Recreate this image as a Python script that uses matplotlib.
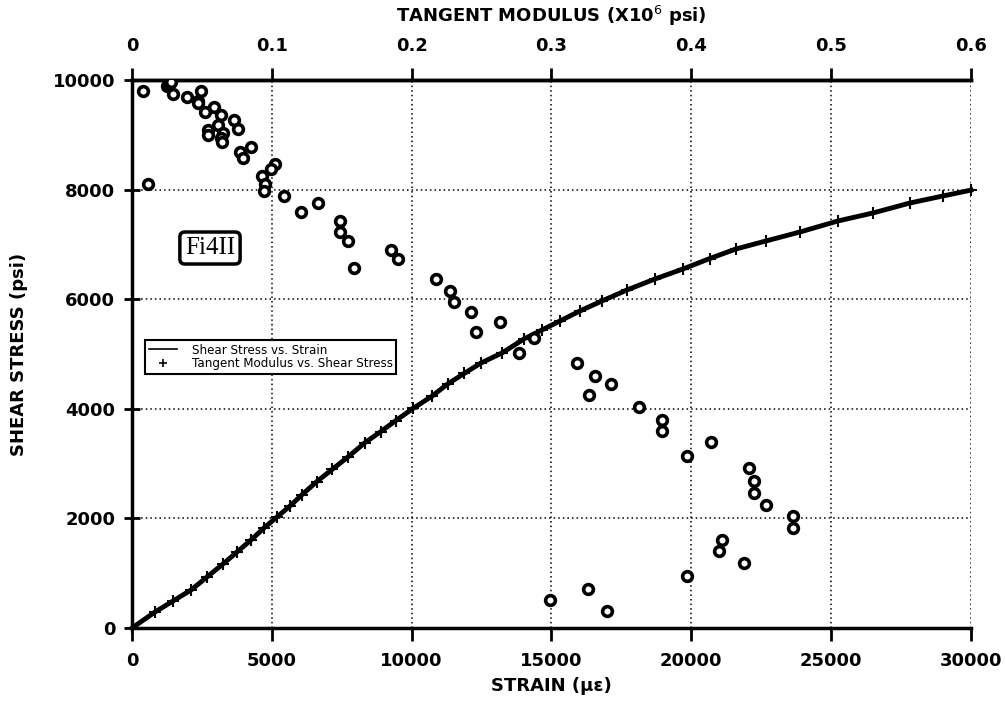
import numpy as np
import matplotlib
matplotlib.use('Agg')
import matplotlib.pyplot as plt
from matplotlib.lines import Line2D

plt.rcParams['font.family'] = ['DejaVu Sans']
plt.rcParams['mathtext.fontset'] = 'dejavusans'

# Shear stress vs strain curve
strain = [0, 822, 1466, 2109, 2681, 3253, 3754, 4255, 4719, 5184,
          5649, 6067, 6603, 7162, 7734, 8330, 8891, 9428, 10057, 10736,
          11287, 11880, 12478, 13230, 14015, 14658, 15302, 16017, 16800, 17698,
          18700, 19700, 20650, 21595, 22667, 23883, 25241, 26493, 27816, 28996,
          30000]
stress = [0, 292, 493, 693, 931, 1168, 1387, 1606, 1825, 2026,
          2226, 2427, 2670, 2896, 3126, 3382, 3582, 3783, 4009, 4234,
          4453, 4645, 4836, 5018, 5274, 5438, 5602, 5785, 5967, 6168,
          6369, 6551, 6740, 6916, 7062, 7226, 7427, 7573, 7755, 7883,
          7990]

# Tangent modulus (x10^6 psi) vs shear stress
modulus = [0.0081, 0.0114, 0.0253, 0.0265, 0.0280, 0.0296, 0.0396, 0.0494, 0.0474, 0.0474,
           0.0520, 0.0584, 0.0634, 0.0617, 0.0727, 0.0760, 0.0544, 0.0544, 0.0651, 0.0634,
           0.0644, 0.0853, 0.0775, 0.0794, 0.1020, 0.0994, 0.0928, 0.0949, 0.0946, 0.1085,
           0.1211, 0.1328, 0.1490, 0.1490, 0.1545, 0.1588, 0.1852, 0.1905, 0.2172, 0.2277,
           0.2303, 0.2427, 0.2634, 0.2462, 0.2873, 0.2766, 0.3185, 0.3313, 0.3426, 0.3270,
           0.3624, 0.3788, 0.3788, 0.3971, 0.4143, 0.4410, 0.4450, 0.4450, 0.4536, 0.4729,
           0.4725, 0.4221, 0.4196, 0.4375, 0.3969, 0.3263, 0.2989, 0.3397]
mod_stress = [9805, 8108, 9890, 9927, 9963, 9739, 9695, 9793, 9622, 9575,
              9416, 9502, 9356, 9184, 9276, 9112, 9082, 9002, 9039, 8942,
              8863, 8777, 8680, 8582, 8467, 8370, 8248, 8108, 7974, 7883,
              7586, 7755, 7427, 7233, 7062, 6570, 6903, 6734, 6369, 6150,
              5949, 5761, 5584, 5407, 5292, 5024, 4841, 4604, 4458, 4252,
              4033, 3796, 3600, 3133, 3389, 2914, 2682, 2469, 2245, 2044,
              1825, 1611, 1405, 1186, 943, 717, 516, 305]

strain_ticks = [0, 5000, 10000, 15000, 20000, 25000, 30000]
stress_ticks = [0, 2000, 4000, 6000, 8000, 10000]
mod_ticks = [0, 0.1, 0.2, 0.3, 0.4, 0.5, 0.6]
mod_labels = ['0', '0.1', '0.2', '0.3', '0.4', '0.5', '0.6']

fig = plt.figure(figsize=(10.06, 7.14), dpi=100)
ax = fig.add_axes([0.1312, 0.1204, 0.8340, 0.7676])

# Main curve
ax.plot(strain, stress, color='black', lw=3.5, marker='+', ms=8, mew=1.5,
        zorder=3, clip_on=False)
ax.set_xlim(0, 30000)
ax.set_ylim(0, 10000)
ax.set_xticks(strain_ticks)
ax.set_yticks(stress_ticks)
ax.grid(True, color='black', linestyle=(0, (1, 2)), lw=1.1)
ax.tick_params(axis='x', direction='out', length=9, width=2, labelsize=13, pad=8)
ax.tick_params(axis='y', direction='inout', length=12, width=2, labelsize=13, pad=6)
for lbl in ax.get_xticklabels() + ax.get_yticklabels():
    lbl.set_fontweight('bold')
ax.spines['right'].set_visible(False)
for s in ['left', 'bottom', 'top']:
    ax.spines[s].set_linewidth(2.5)
ax.set_xlabel('STRAIN (\u03bc\u03b5)', fontsize=13, fontweight='bold', labelpad=5)
ax.set_ylabel('SHEAR STRESS (psi)', fontsize=13, fontweight='bold', labelpad=18)

# Top axis for tangent modulus
ax2 = ax.twiny()
ax2.plot(modulus, mod_stress, linestyle='none', marker='o', ms=7,
         mfc='white', mec='black', mew=2.6, zorder=4)
ax2.set_xlim(0, 0.6)
ax2.set_xticks(mod_ticks)
ax2.set_xticklabels(mod_labels)
ax2.tick_params(axis='x', direction='out', length=9, width=2, labelsize=13, pad=9)
for lbl in ax2.get_xticklabels():
    lbl.set_fontweight('bold')
ax2.spines['right'].set_visible(False)
ax2.spines['top'].set_linewidth(2.5)
ax2.set_xlabel(r'TANGENT MODULUS (X10$^{6}$ psi)', fontsize=13,
               fontweight='bold', labelpad=11)

# Legend
handles = [Line2D([], [], color='black', lw=1.2),
           Line2D([], [], color='black', linestyle='none', marker='+', ms=6, mew=1.2)]
leg = ax2.legend(handles, ['Shear Stress vs. Strain', 'Tangent Modulus vs. Shear Stress'],
                 loc='upper left', bbox_to_anchor=(0.0155, 0.5255), borderaxespad=0,
                 fontsize=8.6, fancybox=False, framealpha=1, edgecolor='black',
                 handlelength=2.4, labelspacing=0.05, borderpad=0.3,
                 handletextpad=1.2)
leg.get_frame().set_linewidth(1.5)

# Specimen tag
ax.text(2789, 6934, 'Fi4II', fontsize=18, family='Liberation Serif',
        ha='center', va='center', zorder=5,
        bbox=dict(boxstyle='round,pad=0.2', fc='white', ec='black', lw=2.5))

plt.savefig('out.png', dpi=100)
